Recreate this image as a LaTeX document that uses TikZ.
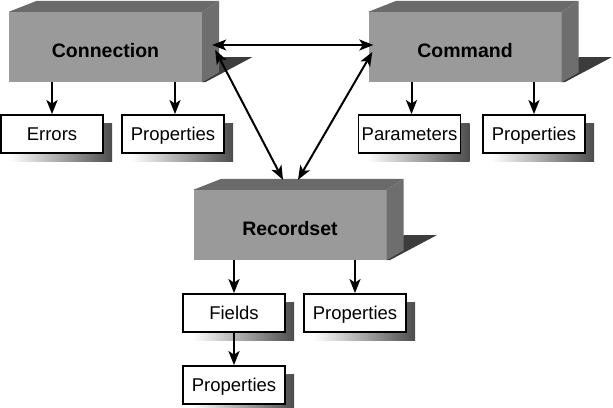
\documentclass[tikz,border=0pt]{standalone}
\usepackage{fontspec}
\setmainfont{Liberation Sans}
\usetikzlibrary{arrows.meta,shadows}
\definecolor{boxfront}{HTML}{9A9A9A}
\definecolor{boxtop}{HTML}{6A6A6A}
\definecolor{boxside}{HTML}{6E6E6E}
\definecolor{boxshade}{HTML}{3C3C3C}
\tikzset{
  bigbox/.style={fill=boxfront,minimum width=193pt,minimum height=70pt,inner sep=0pt,
    text height=20pt,text depth=0pt,font=\fontsize{19.5}{21}\selectfont\bfseries},
  smallbox/.style={draw,line width=1.8pt,fill=white,minimum width=102pt,minimum height=38pt,
    inner sep=0pt,text height=13pt,text depth=0pt,font=\fontsize{18.5}{20}\selectfont,
    general shadow={shadow xshift=9pt,shadow yshift=-8pt,left color=white,right color=black!70}},
  link/.style={line width=2pt,-{Stealth[length=14pt,width=11pt,inset=3.5pt]}},
  twoway/.style={line width=2pt,{Stealth[length=14pt,width=11pt,inset=3.5pt]}-{Stealth[length=14pt,width=11pt,inset=3.5pt]}}
}
\newcommand{\boxfaces}[1]{%
  \fill[boxshade] (#1.south east) -- ([shift={(17,-25)}]#1.south east) -- ([shift={(50,-25)}]#1.south east) -- ([shift={(3,0)}]#1.south east) -- cycle;
  \fill[boxtop] (#1.north west) -- ([shift={(28,-11)}]#1.north west) -- ([shift={(17,-11)}]#1.north east) -- (#1.north east) -- cycle;
  \fill[boxside] (#1.north east) -- ([shift={(17,-11)}]#1.north east) -- ([shift={(17,-10)}]#1.south east) -- (#1.south east) -- cycle;
}

\begin{document}
\begin{tikzpicture}[x=1pt,y=-1pt]
\useasboundingbox (0,0) rectangle (613,407);
\node[bigbox] (conn) at (105.5,47) {Connection};
\node[bigbox] (cmd) at (465,47) {Command};
\node[bigbox] (rec) at (290,225) {Recordset};
\boxfaces{conn}
\boxfaces{cmd}
\boxfaces{rec}
\node[smallbox] (errors) at (52,134) {Errors};
\node[smallbox] (connprops) at (173,134) {Properties};
\node[smallbox] (params) at (409.5,134) {Parameters};
\node[smallbox] (cmdprops) at (534,134) {Properties};
\node[smallbox] (fields) at (234,313) {Fields};
\node[smallbox] (recprops) at (355,313) {Properties};
\node[smallbox] (fieldprops) at (234,385) {Properties};
\coordinate (connR) at ([shift={(10,-2)}]conn.east);
\coordinate (connD) at ([shift={(13,3)}]conn.east);
\coordinate (cmdL) at ([shift={(5,-2)}]cmd.west);
\coordinate (cmdD) at ([shift={(4,5)}]cmd.west);
\coordinate (recL) at ([shift={(-7,-10)}]rec.north);
\coordinate (recR) at ([shift={(8,-10)}]rec.north);
\draw[twoway] (connR) -- (cmdL);
\draw[twoway] (connD) -- (recL);
\draw[twoway] (cmdD) -- (recR);
\draw[link] (errors.north |- conn.south) -- (errors.north);
\draw[link] ([xshift=2pt]connprops.north |- conn.south) -- ([xshift=2pt]connprops.north);
\draw[link] ([xshift=2pt]params.north |- cmd.south) -- ([xshift=2pt]params.north);
\draw[link] (cmdprops.north |- cmd.south) -- (cmdprops.north);
\draw[link] (fields.north |- rec.south) -- (fields.north);
\draw[link] (recprops.north |- rec.south) -- (recprops.north);
\draw[link] (fields.south) -- (fieldprops.north);
\end{tikzpicture}
\end{document}
